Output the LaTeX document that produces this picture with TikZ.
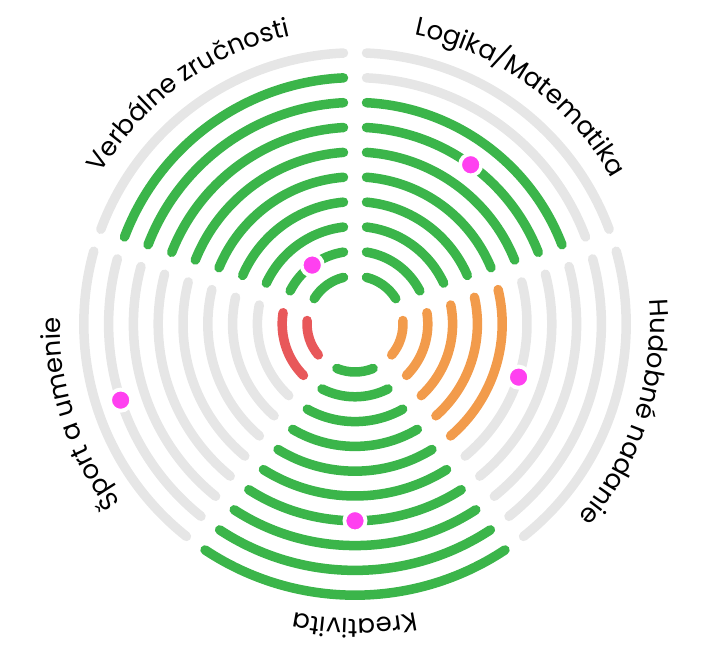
\documentclass[tikz,border=0pt]{standalone}
\usepackage{fontspec}
\setmainfont{Poppins}
\usepackage{tikz}
\usetikzlibrary{decorations.text}
\usepackage{xcolor}
\definecolor{skgreen}{RGB}{59,181,74}
\definecolor{skgray}{RGB}{230,230,230}
\definecolor{skorange}{RGB}{242,155,75}
\definecolor{skred}{RGB}{232,88,90}
\definecolor{skpink}{RGB}{255,64,240}
\tikzstyle{ring} = [line width=9.5pt, line cap=round]
\tikzstyle{marker} = [circle, fill=skpink, draw=white, line width=3.8pt, inner sep=0pt, minimum size=21.2pt]
\newcommand{\labelfont}{\fontsize{26}{30}\selectfont}

\begin{document}
\begin{tikzpicture}[x=1pt, y=1pt]
\useasboundingbox (-355,-334) rectangle (355,324);

\foreach \a/\lvl/\clr in {90/8/skgreen, 18/7/skgreen, -54/4/skorange, -126/9/skgreen, 162/1/skred}{
  \foreach \k in {0,...,9}{
    \pgfmathsetmacro{\r}{48+24.8*\k}
    \pgfmathsetmacro{\s}{\a+asin(11.5/\r)}
    \pgfmathsetmacro{\e}{\a+72-asin(11.5/\r)}
    \ifnum\k>\lvl \def\col{skgray}\else \def\col{\clr}\fi
    \draw[ring, draw=\col] (\s:\r) arc[start angle=\s, end angle=\e, radius=\r];
  }
}

\node[marker] (verbal) at (126:72.8) {};
\node[marker] (logika) at (54:196.8) {};
\node[marker] (hudba) at (-18:172) {};
\node[marker] (kreat) at (-90:196.8) {};
\node[marker] (sport) at (198:246.4) {};

\path[decorate, decoration={text along path, text align=center, text={|\labelfont|Verbálne zručnosti}}]
  (166:295) arc[start angle=166, end angle=86, radius=295];
\path[decorate, decoration={text along path, text align=center, text={|\labelfont|Logika/Matematika}}]
  (94:295) arc[start angle=94, end angle=14, radius=295];
\path[decorate, decoration={text along path, text align=center, text={|\labelfont|Hudobné nadanie}}]
  (22:295) arc[start angle=22, end angle=-58, radius=295];
\path[decorate, decoration={text along path, text align=center, text={|\labelfont|Kreativita}}]
  (-50:295) arc[start angle=-50, end angle=-130, radius=295];
\path[decorate, decoration={text along path, text align=center, text={|\labelfont|Šport a umenie}}]
  (238:295) arc[start angle=238, end angle=158, radius=295];
\end{tikzpicture}
\end{document}
